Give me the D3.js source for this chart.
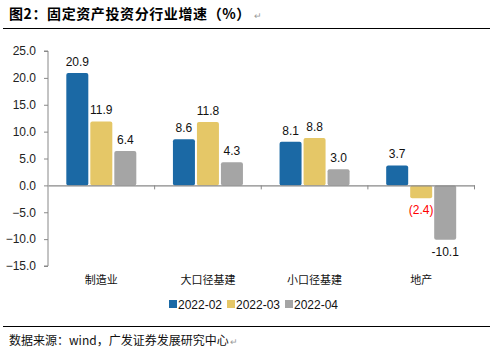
<!DOCTYPE html>
<html>
<head>
<meta charset="utf-8">
<script src="https://cdn.jsdelivr.net/npm/d3@7"></script>
<style>
  body { margin: 0; background: #fff; }
  svg text { font-family: "Liberation Sans", Arial, sans-serif; }
  .cjk { font-family: "Noto Sans CJK SC", sans-serif; }
</style>
</head>
<body>
<div id="chart"></div>
<script>
// data
const categories = ["制造业", "大口径基建", "小口径基建", "地产"];
const seriesNames = ["2022-02", "2022-03", "2022-04"];
const s0202 = [20.9, 8.6, 8.1, 3.7];
const s0203 = [11.9, 11.8, 8.8, -2.4];
const s0204 = [6.4, 4.3, 3.0, -10.1];
const yTicks = [25, 20, 15, 10, 5, 0, -5, -10, -15];
const colors = ["#1B69A5", "#E5C767", "#A5A5A5"];

const series = [s0202, s0203, s0204];

const W = 490, H = 354;
const svg = d3.select("#chart").append("svg")
  .attr("width", W).attr("height", H);

// title + rules
const title = svg.append("text").attr("class", "cjk")
  .attr("x", 9).attr("y", 19)
  .style("font-size", "14px").style("font-weight", "bold")
  .style("letter-spacing", "0.6px")
  .text("图2：固定资产投资分行业增速（%）");
svg.append("text").attr("x", 9 + title.node().getComputedTextLength() + 3).attr("y", 19)
  .style("font-size", "9px").attr("fill", "#999").text("↵");
svg.append("line").attr("x1", 3).attr("x2", 490).attr("y1", 28.5).attr("y2", 28.5)
  .attr("stroke", "#000").attr("stroke-width", 1);
svg.append("line").attr("x1", 3).attr("x2", 490).attr("y1", 326.5).attr("y2", 326.5)
  .attr("stroke", "#000").attr("stroke-width", 1);
const foot = svg.append("text").attr("class", "cjk")
  .attr("x", 9).attr("y", 345)
  .style("font-size", "12px").attr("fill", "#111")
  .text("数据来源：wind，广发证券发展研究中心");
svg.append("text").attr("x", 9 + foot.node().getComputedTextLength() + 1).attr("y", 345)
  .style("font-size", "9px").attr("fill", "#999").text("↵");

// scales
const x0 = d3.scaleBand().domain(categories).range([48, 474.5]);
const y = d3.scaleLinear().domain([-15, 25]).range([266, 51]);
const barW = 22, gap = 2;
const groupW = barW * 3 + gap * 2;

// y axis
const yAxis = svg.append("g")
  .attr("transform", "translate(48,0)")
  .call(d3.axisLeft(y).tickValues(yTicks).tickSize(4).tickFormat(d3.format(".1f")));
yAxis.select(".domain").attr("stroke", "#888").attr("d", `M-4,${y(25)}H0V${y(-15)}H-4`);
yAxis.selectAll(".tick line").attr("stroke", "#888");
yAxis.selectAll(".tick text").attr("x", -12).attr("fill", "#222")
  .style("font-size", "12px");

// bars
categories.forEach((c, i) => {
  const gx = x0(c) + (x0.bandwidth() - groupW) / 2;
  series.forEach((s, j) => {
    const v = s[i];
    const bx = gx + j * (barW + gap);
    svg.append("rect")
      .attr("x", bx).attr("width", barW)
      .attr("y", y(Math.max(0, v))).attr("height", Math.abs(y(v) - y(0)))
      .attr("rx", 2)
      .attr("fill", colors[j]);
    const neg = v < 0;
    svg.append("text")
      .attr("x", bx + barW / 2)
      .attr("y", neg ? y(v) + 16 : y(v) - 7)
      .attr("text-anchor", "middle")
      .style("font-size", "12px")
      .attr("fill", neg && j === 1 ? "#FF0000" : "#111")
      .text(neg && j === 1 ? `(${Math.abs(v).toFixed(1)})` : v.toFixed(1));
  });
});

// zero line with category ticks
const xAxis = svg.append("g")
  .attr("transform", `translate(0,${y(0)})`)
  .call(d3.axisBottom(x0).tickSize(0).tickFormat(""));
xAxis.select(".domain").attr("stroke", "#888").attr("stroke-width", 1.2);
categories.forEach(c => {
  const tx = x0(c) + x0.bandwidth();
  svg.append("line").attr("x1", tx).attr("x2", tx)
    .attr("y1", y(0)).attr("y2", y(0) + 4).attr("stroke", "#888");
});

// category labels
svg.selectAll(".cat").data(categories).join("text")
  .attr("class", "cjk")
  .attr("x", d => x0(d) + x0.bandwidth() / 2)
  .attr("y", 284)
  .attr("text-anchor", "middle")
  .style("font-size", "11px").attr("fill", "#111")
  .text(d => d);

// legend
const legX = [169, 227, 285];
seriesNames.forEach((n, j) => {
  svg.append("rect").attr("x", legX[j]).attr("y", 300).attr("width", 8).attr("height", 8)
    .attr("fill", colors[j]);
  svg.append("text").attr("x", legX[j] + 9).attr("y", 308.5)
    .style("font-size", "12px").attr("fill", "#111").text(n);
});
</script>
</body>
</html>
